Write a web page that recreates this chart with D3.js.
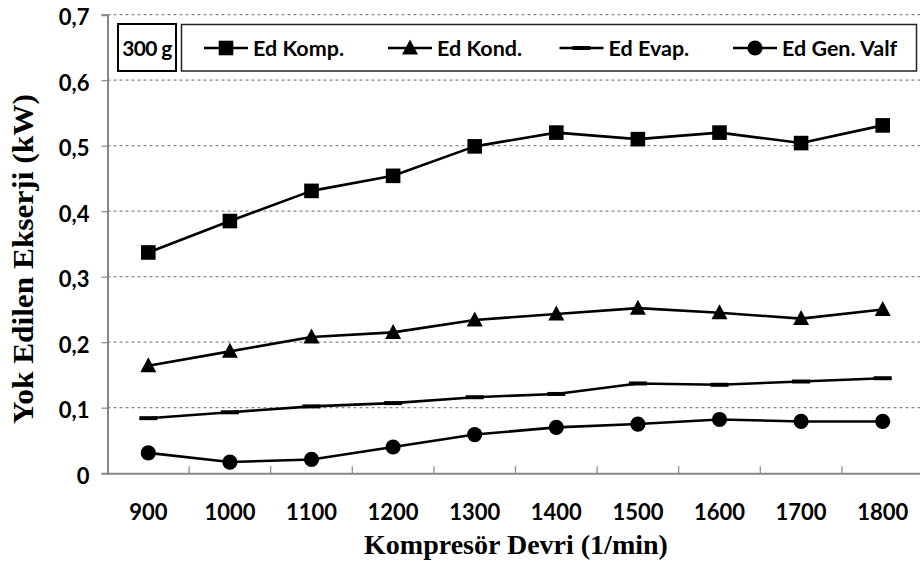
<!DOCTYPE html>
<html>
<head>
<meta charset="utf-8">
<script src="https://cdn.jsdelivr.net/npm/d3@7"></script>
<style>
  html, body { margin: 0; padding: 0; background: #fff; }
  svg { display: block; }
</style>
</head>
<body>
<svg id="chart" width="920" height="566"></svg>
<script>
// Compressor speed categories (1/min)
const speeds = [900, 1000, 1100, 1200, 1300, 1400, 1500, 1600, 1700, 1800];
// Exergy destruction per component (kW)
const edKomp    = [0.337, 0.385, 0.431, 0.454, 0.499, 0.520, 0.510, 0.520, 0.504, 0.531];
const edKond    = [0.164, 0.186, 0.208, 0.215, 0.234, 0.243, 0.252, 0.245, 0.236, 0.250];
const edEvap    = [0.084, 0.093, 0.102, 0.107, 0.116, 0.121, 0.137, 0.135, 0.140, 0.145];
const edGenValf = [0.031, 0.017, 0.021, 0.040, 0.059, 0.070, 0.075, 0.082, 0.079, 0.079];
const seriesNames = ["Ed Komp.", "Ed Kond.", "Ed Evap.", "Ed Gen. Valf"];
const yTicks = [0, 0.1, 0.2, 0.3, 0.4, 0.5, 0.6, 0.7];
const chargeLabel = "300 g";

const series = [
  { name: seriesNames[0], values: edKomp,    marker: "square" },
  { name: seriesNames[1], values: edKond,    marker: "triangle" },
  { name: seriesNames[2], values: edEvap,    marker: "dash" },
  { name: seriesNames[3], values: edGenValf, marker: "circle" }
];

const svg = d3.select("#chart");
const plot = { left: 107.5, right: 923.5, top: 14.7, bottom: 473.2 };

const x = d3.scaleBand().domain(speeds).range([plot.left, plot.right]);
const y = d3.scaleLinear().domain([0, 0.7]).range([plot.bottom, plot.top]);

const tickFont = "Lato, 'Open Sans', sans-serif";
const titleFont = "'Liberation Serif', 'Times New Roman', serif";
const fmt = v => v === 0 ? "0" : d3.format(".1f")(v).replace(".", ",");

// Horizontal dashed gridlines
svg.append("g")
  .selectAll("line")
  .data(yTicks.filter(t => t > 0))
  .join("line")
  .attr("x1", plot.left).attr("x2", 920)
  .attr("y1", d => y(d)).attr("y2", d => y(d))
  .attr("stroke", "#8a8a8a")
  .attr("stroke-width", 1.2)
  .attr("stroke-dasharray", "3,3");

// Y axis
const yAxis = svg.append("g")
  .attr("transform", `translate(${plot.left},0)`)
  .call(d3.axisLeft(y).tickValues(yTicks).tickFormat(fmt).tickSize(6).tickPadding(12));
yAxis.select(".domain").attr("stroke", "#868686").attr("stroke-width", 2);
yAxis.selectAll(".tick line").attr("stroke", "#868686").attr("stroke-width", 1.2);
yAxis.selectAll(".tick text")
  .attr("font-family", tickFont)
  .attr("font-weight", "bold")
  .attr("font-size", 22)
  .attr("fill", "#000")
  .attr("dy", "0.45em");

// X axis: labels centred on categories, small inward ticks between them
const xAxis = svg.append("g")
  .attr("transform", `translate(0,${plot.bottom})`)
  .call(d3.axisBottom(x).tickSize(0).tickPadding(31));
xAxis.select(".domain").attr("stroke", "#868686").attr("stroke-width", 2);
xAxis.selectAll(".tick text")
  .attr("font-family", tickFont)
  .attr("font-weight", "bold")
  .attr("font-size", 22)
  .attr("fill", "#000");
svg.append("g")
  .selectAll("line")
  .data(speeds.slice(1))
  .join("line")
  .attr("x1", d => x(d)).attr("x2", d => x(d))
  .attr("y1", plot.bottom).attr("y2", plot.bottom - 7)
  .attr("stroke", "#868686")
  .attr("stroke-width", 1.2);

// Axis titles
svg.append("text")
  .attr("x", 516).attr("y", 554)
  .attr("text-anchor", "middle")
  .attr("font-family", titleFont)
  .attr("font-weight", "bold")
  .attr("font-size", 28)
  .text("Kompresör Devri (1/min)");

svg.append("text")
  .attr("transform", "translate(32.5,259) rotate(-90) scale(1.1,1)")
  .attr("text-anchor", "middle")
  .attr("font-family", titleFont)
  .attr("font-weight", "bold")
  .attr("font-size", 28.5)
  .text("Yok Edilen Ekserji (kW)");

// Marker drawing
function drawMarker(sel, type) {
  if (type === "square") {
    sel.append("rect").attr("x", -7.3).attr("y", -7.3).attr("width", 14.6).attr("height", 14.6).attr("fill", "#000");
  } else if (type === "triangle") {
    sel.append("path").attr("d", "M0,-8.5L8,6.5L-8,6.5Z").attr("fill", "#000");
  } else if (type === "circle") {
    sel.append("circle").attr("r", 7.6).attr("fill", "#000");
  } else if (type === "dash") {
    sel.append("rect").attr("x", -9).attr("y", -2).attr("width", 18).attr("height", 4).attr("fill", "#000");
  }
}

const line = d3.line()
  .x((d, i) => x(speeds[i]) + x.bandwidth() / 2)
  .y(d => y(d));

const gSeries = svg.append("g");
series.forEach(s => {
  gSeries.append("path")
    .attr("d", line(s.values))
    .attr("fill", "none")
    .attr("stroke", "#000")
    .attr("stroke-width", 2.6)
    .attr("stroke-linejoin", "round");
  s.values.forEach((v, i) => {
    const m = gSeries.append("g")
      .attr("transform", `translate(${x(speeds[i]) + x.bandwidth() / 2},${y(v)})`);
    drawMarker(m, s.marker);
  });
});

// Charge label box
svg.append("rect")
  .attr("x", 118).attr("y", 24).attr("width", 58).attr("height", 47)
  .attr("fill", "#fff").attr("stroke", "#000").attr("stroke-width", 2);
svg.append("text")
  .attr("x", 147).attr("y", 56)
  .attr("text-anchor", "middle")
  .attr("font-family", tickFont)
  .attr("font-weight", "bold")
  .attr("font-size", 21)
  .attr("letter-spacing", -0.6)
  .text(chargeLabel);

// Legend
svg.append("rect")
  .attr("x", 181.5).attr("y", 24.5).attr("width", 735).attr("height", 46.5)
  .attr("fill", "#fff").attr("stroke", "#222").attr("stroke-width", 1.5);
const legendTextX = [253, 437, 608.5, 782];
series.forEach((s, i) => {
  const tx = legendTextX[i];
  const g = svg.append("g");
  g.append("line")
    .attr("x1", tx - 49).attr("x2", tx - 5)
    .attr("y1", 48).attr("y2", 48)
    .attr("stroke", "#000").attr("stroke-width", 2.6);
  const m = g.append("g").attr("transform", `translate(${tx - 27},48)`);
  drawMarker(m, s.marker);
  g.append("text")
    .attr("x", tx).attr("y", 56)
    .attr("font-family", tickFont)
    .attr("font-weight", "bold")
    .attr("font-size", 21.5)
    .text(s.name);
});
</script>
</body>
</html>
